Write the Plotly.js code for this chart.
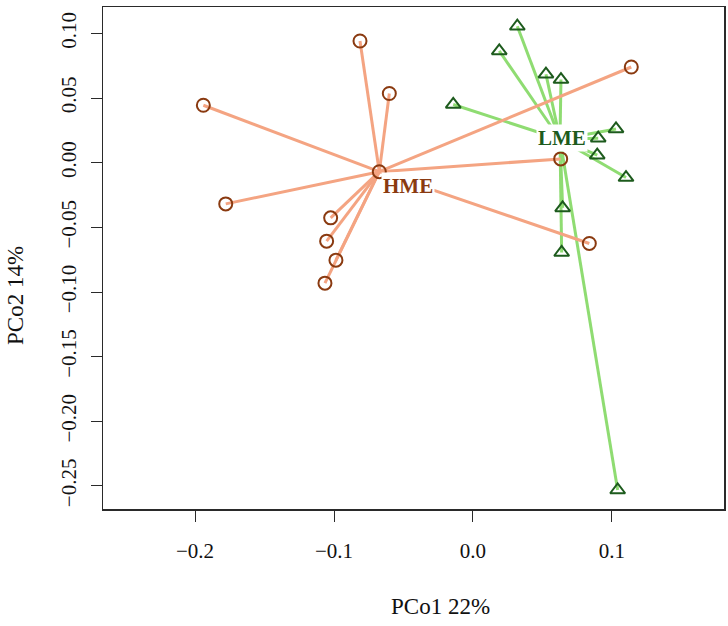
<!DOCTYPE html>
<html>
<head>
<meta charset="utf-8">
<script src="https://cdn.plot.ly/plotly-3.0.1.min.js"></script>
<style>
  html, body { margin: 0; padding: 0; background: #ffffff; }
  #chart { width: 728px; height: 626px; }
</style>
</head>
<body>
<div id="chart"></div>
<script>
// PCoA site scores for the two groups
const hmeX = [-0.1940, -0.1779, -0.0813, -0.0602, -0.1024, -0.1053, -0.0986, -0.1065, -0.0674, 0.1139, 0.0631, 0.0837];
const hmeY = [0.0445, -0.0318, 0.0942, 0.0536, -0.0426, -0.0606, -0.0753, -0.0931, -0.0069, 0.0741, 0.0030, -0.0624];
const lmeX = [0.0319, 0.0189, 0.0525, 0.0633, -0.0142, 0.1029, 0.0901, 0.0894, 0.1101, 0.0645, 0.0638, 0.1041];
const lmeY = [0.1056, 0.0865, 0.0685, 0.0644, 0.0451, 0.0262, 0.0190, 0.0059, -0.0114, -0.0349, -0.0694, -0.2531];

// group centres (spider hubs)
const hmeCentre = [-0.0674, -0.0069];
const lmeCentre = [0.0626, 0.0182];

// group label positions
const groupNames = ["HME", "LME"];
const hmeLabelPos = [-0.0468, -0.0181];
const lmeLabelPos = [0.0640, 0.0190];

// axis ticks and titles
const xTicks = [-0.2, -0.1, 0.0, 0.1];
const xTickText = ["\u22120.2", "\u22120.1", "0.0", "0.1"];
const yTicks = [0.10, 0.05, 0.00, -0.05, -0.10, -0.15, -0.20, -0.25];
const yTickText = ["0.10", "0.05", "0.00", "\u22120.05", "\u22120.10", "\u22120.15", "\u22120.20", "\u22120.25"];
const xTitle = "PCo1 22%";
const yTitle = "PCo2 14%";

const FONT = "'Liberation Serif', 'DejaVu Serif', serif";
const HME_LINE = "#f4a482";
const HME_PT = "#8a3a10";
const LME_LINE = "#8fdc72";
const LME_PT = "#1d5b1d";

function spider(xs, ys, c) {
  const sx = [], sy = [];
  for (let i = 0; i < xs.length; i++) {
    sx.push(c[0], xs[i], null);
    sy.push(c[1], ys[i], null);
  }
  return { x: sx, y: sy };
}

const lmeSpider = spider(lmeX, lmeY, lmeCentre);
const hmeSpider = spider(hmeX, hmeY, hmeCentre);

const traces = [
  { x: lmeSpider.x, y: lmeSpider.y, mode: "lines", type: "scatter",
    line: { color: LME_LINE, width: 3 }, hoverinfo: "skip", showlegend: false },
  { x: hmeSpider.x, y: hmeSpider.y, mode: "lines", type: "scatter",
    line: { color: HME_LINE, width: 3 }, hoverinfo: "skip", showlegend: false },
  { x: hmeX, y: hmeY, mode: "markers", type: "scatter", name: groupNames[0],
    marker: { symbol: "circle-open", size: 13, color: HME_PT, line: { width: 2, color: HME_PT } },
    showlegend: false },
  { x: lmeX, y: lmeY, mode: "markers", type: "scatter", name: groupNames[1],
    marker: { symbol: "triangle-up-open", size: 13, color: LME_PT, line: { width: 2, color: LME_PT } },
    showlegend: false }
];

const axisCommon = {
  showgrid: false, zeroline: false,
  showline: true, mirror: true, linecolor: "#2a2a2a", linewidth: 1.5,
  ticks: "outside", ticklen: 11, tickwidth: 1, tickcolor: "#2a2a2a",
  tickfont: { family: FONT, size: 21, color: "#111111" }
};

const layout = {
  width: 728, height: 626,
  margin: { l: 103, r: 4, t: 7, b: 117 },
  paper_bgcolor: "#ffffff", plot_bgcolor: "#ffffff",
  showlegend: false,
  xaxis: Object.assign({}, axisCommon, {
    range: [-0.2662, 0.1806], tickvals: xTicks, ticktext: xTickText,
    ticklabelstandoff: 11
  }),
  yaxis: Object.assign({}, axisCommon, {
    range: [-0.2678, 0.1205], tickvals: yTicks, ticktext: yTickText,
    tickangle: -90, ticklabelstandoff: 6
  }),
  annotations: [
    { x: hmeLabelPos[0], y: hmeLabelPos[1], xref: "x", yref: "y", text: "<b>" + groupNames[0] + "</b>",
      showarrow: false, bgcolor: "#ffffff", borderpad: 1,
      font: { family: FONT, size: 21, color: HME_PT } },
    { x: lmeLabelPos[0], y: lmeLabelPos[1], xref: "x", yref: "y", text: "<b>" + groupNames[1] + "</b>",
      showarrow: false, bgcolor: "#ffffff", borderpad: 1,
      font: { family: FONT, size: 21, color: LME_PT } },
    { x: 0.5427, y: -0.195, xref: "paper", yref: "paper", text: xTitle, showarrow: false,
      xanchor: "center", yanchor: "middle", font: { family: FONT, size: 23, color: "#111111" } },
    { x: -0.1417, y: 0.4243, xref: "paper", yref: "paper", text: yTitle, showarrow: false,
      textangle: -90, xanchor: "center", yanchor: "middle", font: { family: FONT, size: 23, color: "#111111" } }
  ]
};

Plotly.newPlot("chart", traces, layout, { displayModeBar: false, staticPlot: true });
</script>
</body>
</html>
